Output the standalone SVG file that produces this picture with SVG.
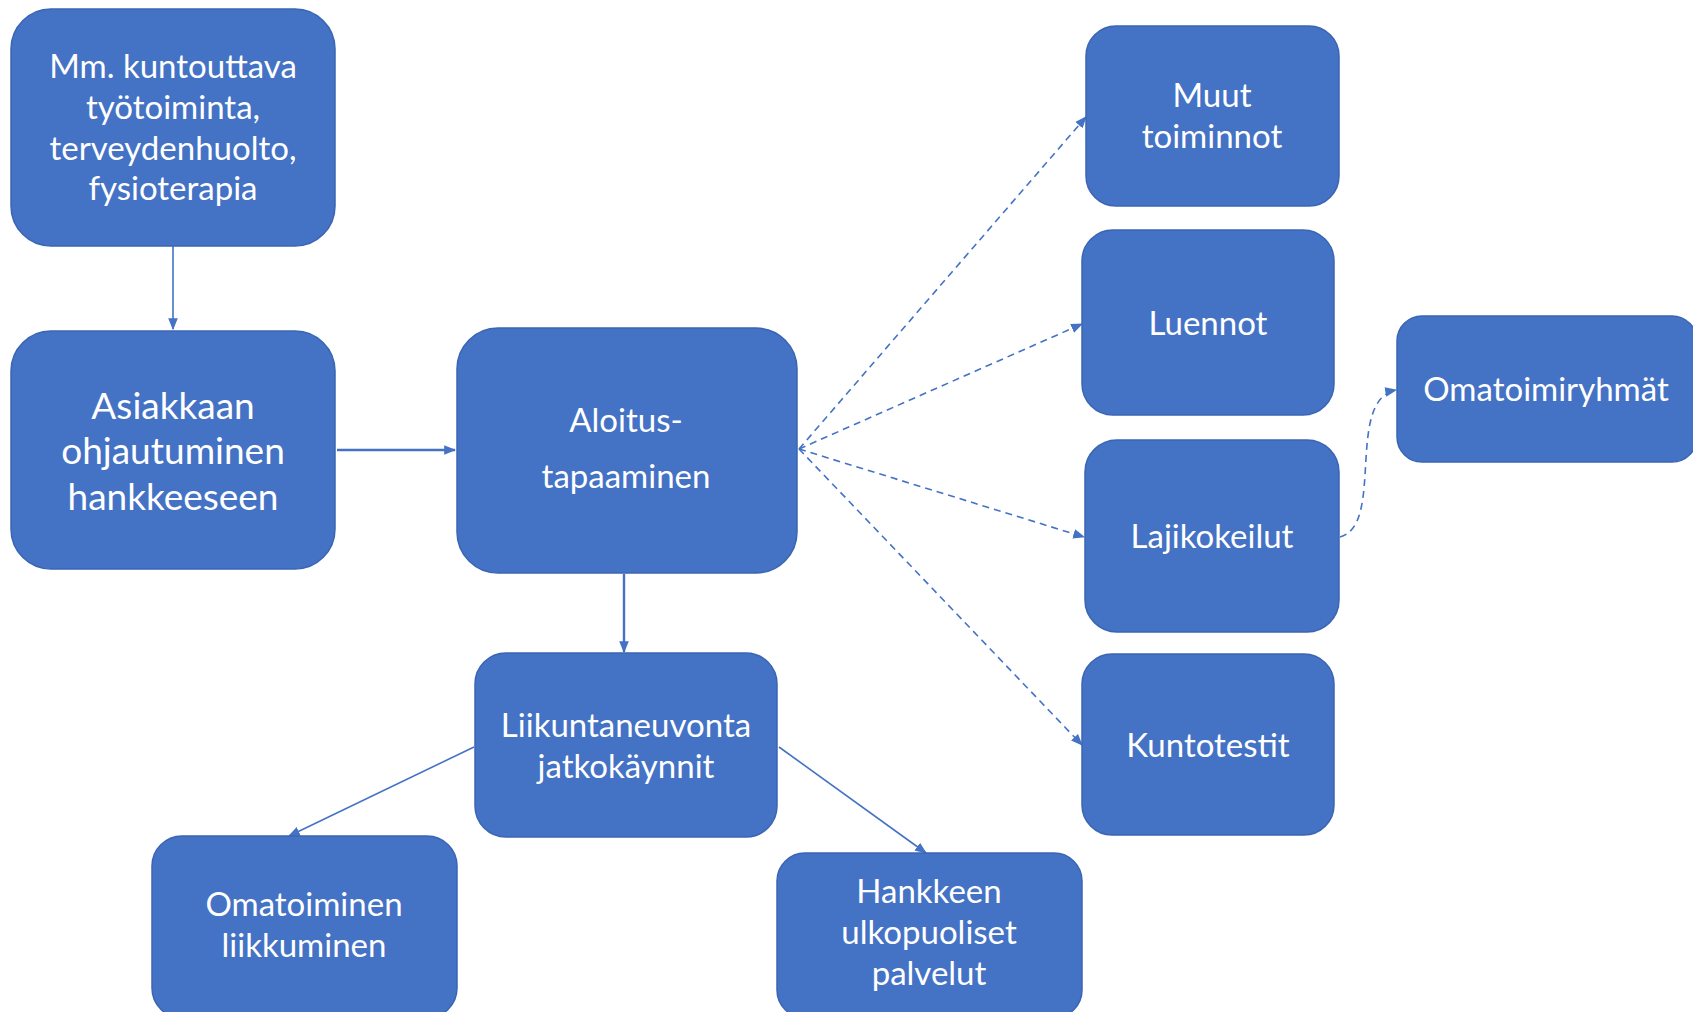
<svg xmlns="http://www.w3.org/2000/svg" width="1693" height="1012" viewBox="0 0 1693 1012">
<style>
.box{fill:#4472C4;stroke:#3A65B3;stroke-width:1.5}
.t{font-family:Lato,"Open Sans","Liberation Sans",sans-serif;fill:#FFFFFF;text-anchor:middle;font-size:33px}
.big{font-size:37px}
.c{fill:none;stroke:#4472C4;stroke-width:1.6}
.thick{stroke-width:2.4}
.d{fill:none;stroke:#4472C4;stroke-width:1.6;stroke-dasharray:7 5}
</style>
<defs>
<marker id="ah" markerUnits="userSpaceOnUse" markerWidth="12" markerHeight="12" viewBox="0 0 10 10" refX="9" refY="5" orient="auto">
<path d="M0,1 L10,5 L0,9 Z" fill="#4472C4"/>
</marker>
</defs>
<rect width="1693" height="1012" fill="#FFFFFF"/>
<g id="connectors">
<line class="c" x1="173" y1="246" x2="173" y2="329" marker-end="url(#ah)"/>
<line class="c thick" x1="337" y1="450" x2="455" y2="450" marker-end="url(#ah)"/>
<line class="c thick" x1="624" y1="574" x2="624" y2="652" marker-end="url(#ah)"/>
<line class="c" x1="474" y1="747" x2="289" y2="836" marker-end="url(#ah)"/>
<line class="c" x1="779" y1="747" x2="926" y2="853" marker-end="url(#ah)"/>
<line class="d" x1="799" y1="449" x2="1086" y2="117" marker-end="url(#ah)"/>
<line class="d" x1="799" y1="449" x2="1082" y2="324" marker-end="url(#ah)"/>
<line class="d" x1="799" y1="449" x2="1084" y2="537" marker-end="url(#ah)"/>
<line class="d" x1="799" y1="449" x2="1082" y2="745" marker-end="url(#ah)"/>
<path class="d" d="M1340,537 C1385,525 1345,400 1396,390" marker-end="url(#ah)"/>
</g>
<g id="n1"><rect class="box" x="11" y="9" width="324" height="237" rx="40"/>
<text class="t" x="173" y="78">Mm. kuntouttava</text>
<text class="t" x="173" y="119">työtoiminta,</text>
<text class="t" x="173" y="160">terveydenhuolto,</text>
<text class="t" x="173" y="200">fysioterapia</text></g>
<g id="n2"><rect class="box" x="11" y="331" width="324" height="238" rx="40"/>
<text class="t big" x="173" y="419">Asiakkaan</text>
<text class="t big" x="173" y="464">ohjautuminen</text>
<text class="t big" x="173" y="510">hankkeeseen</text></g>
<g id="n3"><rect class="box" x="457" y="328" width="340" height="245" rx="41"/>
<text class="t" x="626" y="432">Aloitus-</text>
<text class="t" x="626" y="488">tapaaminen</text></g>
<g id="n4"><rect class="box" x="475" y="653" width="302" height="184" rx="31"/>
<text class="t" x="626" y="737">Liikuntaneuvonta</text>
<text class="t" x="626" y="778">jatkokäynnit</text></g>
<g id="n5"><rect class="box" x="152" y="836" width="305" height="182" rx="30"/>
<text class="t" x="304" y="916">Omatoiminen</text>
<text class="t" x="304" y="957">liikkuminen</text></g>
<g id="n6"><rect class="box" x="777" y="853" width="305" height="165" rx="28"/>
<text class="t" x="929" y="903">Hankkeen</text>
<text class="t" x="929" y="944">ulkopuoliset</text>
<text class="t" x="929" y="985">palvelut</text></g>
<g id="n7"><rect class="box" x="1086" y="26" width="253" height="180" rx="30"/>
<text class="t" x="1212" y="107">Muut</text>
<text class="t" x="1212" y="148">toiminnot</text></g>
<g id="n8"><rect class="box" x="1082" y="230" width="252" height="185" rx="31"/>
<text class="t" x="1208" y="335">Luennot</text></g>
<g id="n9"><rect class="box" x="1085" y="440" width="254" height="192" rx="32"/>
<text class="t" x="1212" y="548">Lajikokeilut</text></g>
<g id="n10"><rect class="box" x="1082" y="654" width="252" height="181" rx="30"/>
<text class="t" x="1208" y="757">Kuntotestit</text></g>
<g id="n11"><rect class="box" x="1397" y="316" width="300" height="146" rx="25"/>
<text class="t" x="1546" y="401">Omatoimiryhmät</text></g>
</svg>
